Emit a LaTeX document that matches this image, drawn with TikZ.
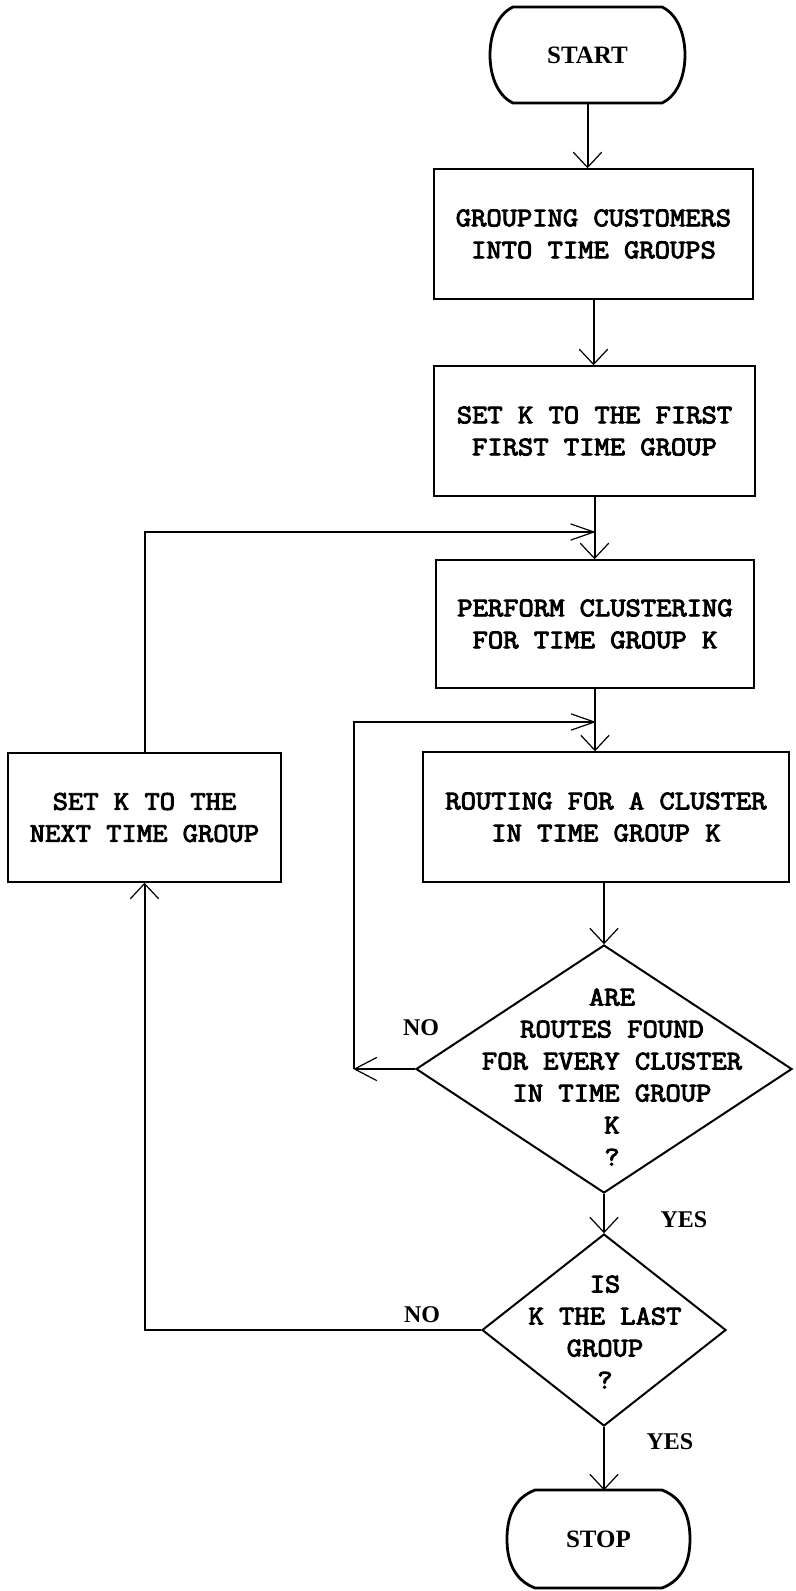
\documentclass[tikz,border=0pt]{standalone}
\usepackage{fontspec}
\setmainfont{Liberation Serif}
\newfontfamily\boxfont{Latin Modern Mono}[FakeStretch=1.1, FakeBold=3.5]
\usetikzlibrary{shapes.geometric,arrows.meta}

% outline of a terminal: flat top and bottom, bulging sides
% #1 node, #2 corner inset, #3/#4 first control offset, #5 side control offset
\newcommand\termoutline[5]{%
  \draw[line width=1.4pt, line join=round]
    ([xshift=-#2]#1.north east)
      .. controls ([xshift=-#3,yshift=-#4]#1.north east) and ([yshift=#5]#1.east) .. (#1.east)
      .. controls ([yshift=-#5]#1.east) and ([xshift=-#3,yshift=#4]#1.south east) .. ([xshift=-#2]#1.south east)
    -- ([xshift=#2]#1.south west)
      .. controls ([xshift=#3,yshift=#4]#1.south west) and ([yshift=-#5]#1.west) .. (#1.west)
      .. controls ([yshift=#5]#1.west) and ([xshift=#3,yshift=-#4]#1.north west) .. ([xshift=#2]#1.north west)
    -- cycle;}

\begin{document}
\begin{tikzpicture}[x=0.5pt,y=-0.5pt,
  every node/.style={inner sep=0pt},
  stepbox/.style={draw, rectangle, line width=1pt, align=center,
    font=\boxfont\fontsize{13.5pt}{16pt}\selectfont},
  qtext/.style={align=center, font=\boxfont\fontsize{13.5pt}{16pt}\selectfont},
  decision/.style={draw, shape=diamond, line width=1pt, inner sep=0pt},
  termbox/.style={rectangle, outer sep=0pt, font=\bfseries\fontsize{12.5pt}{15pt}\selectfont},
  lbl/.style={font=\bfseries\fontsize{12pt}{14pt}\selectfont},
  conn/.style={line width=1pt},
  varr/.style={conn, -{Straight Barb[length=7.5pt,width=14pt,line width=0.6pt,round]}},
  harr/.style={conn, -{Straight Barb[length=11.5pt,width=8pt,line width=0.6pt,round]}},
  larr/.style={conn, -{Straight Barb[length=11pt,width=11.5pt,line width=0.6pt,round]}}]

\useasboundingbox (0,0) rectangle (796,1591);

% terminals
\node[termbox, minimum width=97.5pt, minimum height=48pt] (start) at (587.5,55) {START};
\termoutline{start}{11.5pt}{3pt}{4pt}{9pt}
\node[termbox, minimum width=91.5pt, minimum height=49pt] (stop) at (598.5,1539) {STOP};
\termoutline{stop}{14pt}{3.5pt}{4pt}{11pt}

% process boxes
\node[stepbox, minimum width=159.5pt, minimum height=65pt] (group) at (593.5,234)
  {GROUPING CUSTOMERS\\INTO TIME GROUPS};
\node[stepbox, minimum width=160.5pt, minimum height=65pt] (first) at (594.5,431)
  {SET K TO THE FIRST\\FIRST TIME GROUP};
\node[stepbox, minimum width=159pt, minimum height=64pt] (clust) at (595,624)
  {PERFORM CLUSTERING\\FOR TIME GROUP K};
\node[stepbox, minimum width=183pt, minimum height=65pt] (route) at (606,817)
  {ROUTING FOR A CLUSTER\\IN TIME GROUP K};
\node[stepbox, minimum width=136.5pt, minimum height=64.5pt] (next) at (144.5,817.5)
  {SET K TO THE\\NEXT TIME GROUP};

% decisions
\node[decision, minimum width=188pt, minimum height=124pt] (areq) at (604,1069) {};
\node[qtext] (areqt) at (612,1077)
  {ARE\\ROUTES FOUND\\FOR EVERY CLUSTER\\IN TIME GROUP\\K\\?};
\node[decision, minimum width=122pt, minimum height=96pt] (lastq) at (604,1330) {};
\node[qtext] (lastqt) at (605,1332) {IS\\K THE LAST\\GROUP\\?};

% branch labels
\node[lbl] (no1) at (421,1028) {NO};
\node[lbl] (no2) at (422,1315) {NO};
\node[lbl] (yes1) at (684,1220) {YES};
\node[lbl] (yes2) at (670,1442) {YES};

% junction points
\coordinate (y1) at (0,532);
\coordinate (y2) at (0,722);
\coordinate (j1) at (first.south |- y1);
\coordinate (j2) at (clust.south |- y2);
\coordinate (c2) at (354,1069);

% main flow
\draw[varr] (start.south) -- (start.south |- group.north);
\draw[varr] (group.south) -- (group.south |- first.north);
\draw[varr] (first.south) -- (first.south |- clust.north);
\draw[varr] (clust.south) -- (clust.south |- route.north);
\draw[varr] (route.south -| areq.north) -- (areq.north);
\draw[varr] (areq.south) -- (lastq.north);
\draw[varr] (lastq.south) -- (lastq.south |- stop.north);

% inner loop: next cluster
\draw[larr] (areq.west) -- (c2);
\draw[harr] (c2) -- (c2 |- y2) -- (j2);

% outer loop: next time group
\draw[varr] (lastq.west) -- (lastq.west -| next.south) -- (next.south);
\draw[harr] (next.north) -- (next.north |- y1) -- (j1);

\end{tikzpicture}
\end{document}
